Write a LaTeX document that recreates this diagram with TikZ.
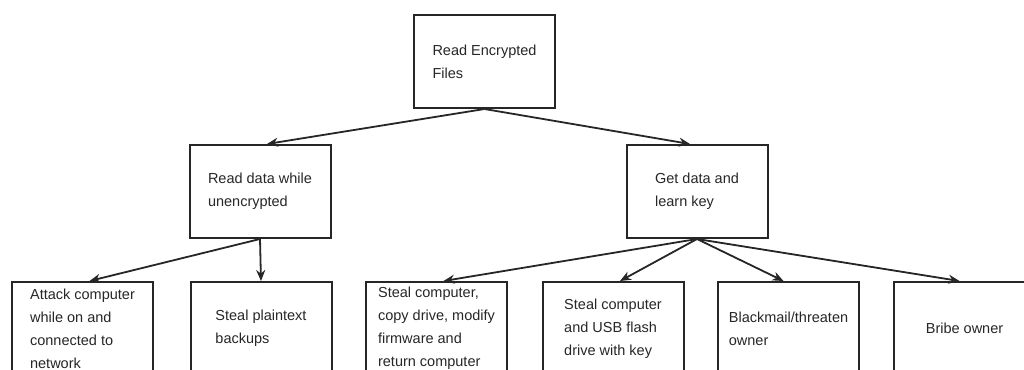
\documentclass[tikz,border=0pt]{standalone}
\usepackage{fontspec}
\setmainfont{Liberation Sans}
\usetikzlibrary{arrows.meta}

\begin{document}
\begin{tikzpicture}[x=1pt,y=-1pt,
  goal/.style={draw=black!85,line width=2pt,rectangle,minimum width=141pt,minimum height=93pt,
    align=left,inner sep=3pt,text=black!85,font=\fontsize{14.5}{23}\selectfont},
  link/.style={-{Stealth[length=11pt,width=9pt]},line width=1.8pt,draw=black!85}]
\clip (0,0) rectangle (1024,369);

\node[goal] (root) at (484.5,61.5) {Read Encrypted\\Files};
\node[goal] (readdata) at (260,191.5) {Read data while\\unencrypted};
\node[goal] (getdata) at (697,191.5) {Get data and\\learn key};

\node[goal,anchor=north] (attack) at (82.5,281) {Attack computer\\while on and\\connected to\\network};
\node[goal,anchor=north] (plaintext) at (261,281) {Steal plaintext\\backups};
\node[goal,anchor=north] (firmware) at (436.5,281) {Steal computer,\\copy drive, modify\\firmware and\\return computer};
\node[goal,anchor=north] (usbkey) at (613,281) {Steal computer\\and USB flash\\drive with key};
\node[goal,anchor=north] (blackmail) at (788.5,281) {Blackmail/threaten\\owner};
\node[goal,anchor=north] (bribe) at (964.5,281) {Bribe owner};

\draw[link] (root.south) -- ([xshift=7pt]readdata.north);
\draw[link] (root.south) -- ([xshift=-7pt]getdata.north);
\draw[link] (readdata.south) -- ([xshift=7pt]attack.north);
\draw[link] (readdata.south) -- (plaintext.north);
\draw[link] (getdata.south) -- ([xshift=7pt]firmware.north);
\draw[link] (getdata.south) -- ([xshift=7pt]usbkey.north);
\draw[link] (getdata.south) -- ([xshift=-5pt]blackmail.north);
\draw[link] (getdata.south) -- ([xshift=-5pt]bribe.north);
\end{tikzpicture}
\end{document}
